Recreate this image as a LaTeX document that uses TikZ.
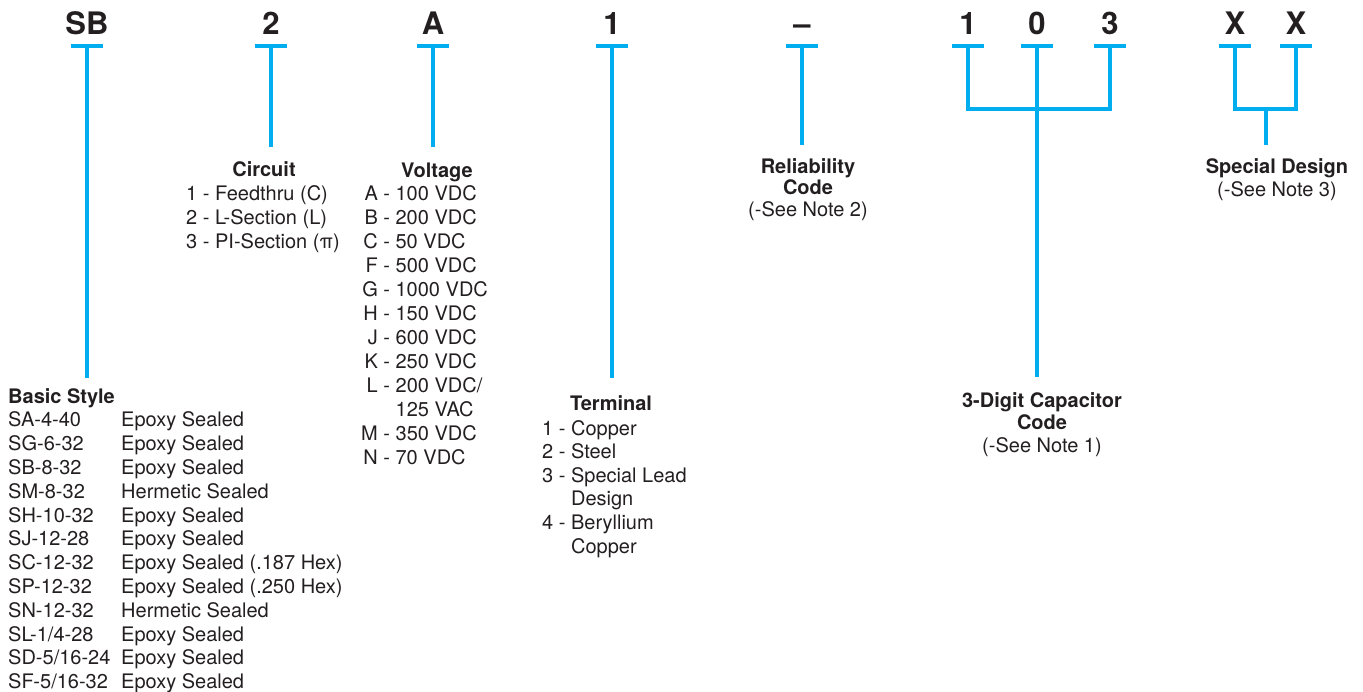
\documentclass[tikz,border=0pt]{standalone}
\usepackage{fontspec}
\setmainfont{TeX Gyre Heros}
\definecolor{codeblue}{RGB}{0,174,239}
\definecolor{inkgray}{RGB}{35,31,32}

\begin{document}
\begin{tikzpicture}[x=1pt, y=-1pt,
  bar/.style={codeblue, line width=4pt},
  stem/.style={codeblue, line width=4pt},
  code/.style={inner sep=0pt, anchor=base, text=inkgray, font=\fontsize{31}{31}\selectfont\bfseries},
  head/.style={inner sep=0pt, anchor=base, text=inkgray, font=\fontsize{20}{24}\selectfont\bfseries},
  list/.style={inner sep=0pt, anchor=base west, text=inkgray, font=\fontsize{20}{24}\selectfont}]
  \useasboundingbox (0,0) rectangle (1363,691);

  % part number letters
  \node[code] (cSB) at (87,34) {SB};
  \node[code] (c2) at (271,34) {2};
  \node[code] (cA) at (433,34) {A};
  \node[code] (c1) at (612,34) {1};
  \node[code] (cDash) at (802,34) {\textendash};
  \node[code] (cOne) at (968,34) {1};
  \node[code] (cZero) at (1037,34) {0};
  \node[code] (cThree) at (1110,34) {3};
  \node[code] (cXa) at (1235,34) {X};
  \node[code] (cXb) at (1296,34) {X};

  % bar points under the letters
  \coordinate (tSB) at (87,46);     \coordinate (eSB) at (87,378);
  \coordinate (t2) at (271,46);     \coordinate (e2) at (271,147);
  \coordinate (tA) at (433,46);     \coordinate (eA) at (433,147);
  \coordinate (t1) at (612,46);     \coordinate (e1) at (612,378);
  \coordinate (tDash) at (802,46);  \coordinate (eDash) at (802,145);
  \coordinate (tOne) at (968,46);   \coordinate (kOne) at (968,109);
  \coordinate (tZero) at (1037,46); \coordinate (eZero) at (1037,377);
  \coordinate (tThree) at (1110,46);\coordinate (kThree) at (1110,109);
  \coordinate (tXa) at (1235,46);   \coordinate (kXa) at (1235,109);
  \coordinate (tXb) at (1296,46);   \coordinate (kXb) at (1296,109);
  \coordinate (kX) at (1266,109);   \coordinate (eX) at (1266,145);

  \foreach \t in {tSB,t2,tA,t1,tDash,tOne,tZero,tThree,tXa,tXb}
    \draw[bar] ([xshift=-16pt]\t) -- ([xshift=16pt]\t);

  \draw[stem] (tSB) -- (eSB);
  \draw[stem] (t2) -- (e2);
  \draw[stem] (tA) -- (eA);
  \draw[stem] (t1) -- (e1);
  \draw[stem] (tDash) -- (eDash);
  \draw[stem] (tOne) -- (kOne) -- (kThree) -- (tThree);
  \draw[stem] (tZero) -- (eZero);
  \draw[stem] (tXa) -- (kXa) -- (kXb) -- (tXb);
  \draw[stem] (kX) -- (eX);

  % Basic Style
  \node[list, font=\fontsize{20}{23.8}\selectfont] (basic) at (8,403) {\begin{tabular}[t]{@{}p{113pt}@{}l@{}}
    \multicolumn{2}{@{}l@{}}{\bfseries Basic Style}\\
    SA-4-40 & Epoxy Sealed\\
    SG-6-32 & Epoxy Sealed\\
    SB-8-32 & Epoxy Sealed\\
    SM-8-32 & Hermetic Sealed\\
    SH-10-32 & Epoxy Sealed\\
    SJ-12-28 & Epoxy Sealed\\
    SC-12-32 & Epoxy Sealed (.187 Hex)\\
    SP-12-32 & Epoxy Sealed (.250 Hex)\\
    SN-12-32 & Hermetic Sealed\\
    SL-1/4-28 & Epoxy Sealed\\
    SD-5/16-24 & Epoxy Sealed\\
    SF-5/16-32 & Epoxy Sealed
  \end{tabular}};

  % Circuit
  \node[head] (circuit) at (264,176) {Circuit};
  \node[list] (circuitlist) at (186,200) {\begin{tabular}[t]{@{}l@{}}
    1 - Feedthru (C)\\
    2 - L-Section (L)\\
    3 - PI-Section (π)
  \end{tabular}};

  % Voltage
  \node[head] (voltage) at (437,177) {Voltage};
  \node[list] (voltagelist) at (361,200) {\begin{tabular}[t]{@{}r@{\ }c@{\ }l@{}}
    A & - & 100 VDC\\
    B & - & 200 VDC\\
    C & - & 50 VDC\\
    F & - & 500 VDC\\
    G & - & 1000 VDC\\
    H & - & 150 VDC\\
    J & - & 600 VDC\\
    K & - & 250 VDC\\
    L & - & 200 VDC/\\
      &   & 125 VAC\\
    M & - & 350 VDC\\
    N & - & 70 VDC
  \end{tabular}};

  % Terminal
  \node[head] (terminal) at (611,410) {Terminal};
  \node[list, font=\fontsize{20}{23.6}\selectfont] (terminallist) at (542,435) {\begin{tabular}[t]{@{}l@{\ }c@{\ }l@{}}
    1 & - & Copper\\
    2 & - & Steel\\
    3 & - & Special Lead\\
      &   & Design\\
    4 & - & Beryllium\\
      &   & Copper
  \end{tabular}};

  % Reliability Code
  \node[head, font=\fontsize{20}{21.5}\selectfont] (reliability) at (808,173) {\begin{tabular}[t]{@{}c@{}}
    \bfseries Reliability\\ \bfseries Code\\ (-See Note 2)
  \end{tabular}};

  % 3-Digit Capacitor Code
  \node[head, font=\fontsize{20}{22.5}\selectfont] (capcode) at (1042,407) {\begin{tabular}[t]{@{}c@{}}
    \bfseries 3-Digit Capacitor\\ \bfseries Code\\ (-See Note 1)
  \end{tabular}};

  % Special Design
  \node[head, font=\fontsize{20}{23.5}\selectfont] (special) at (1277,173) {\begin{tabular}[t]{@{}c@{}}
    \bfseries Special Design\\ (-See Note 3)
  \end{tabular}};
\end{tikzpicture}
\end{document}
